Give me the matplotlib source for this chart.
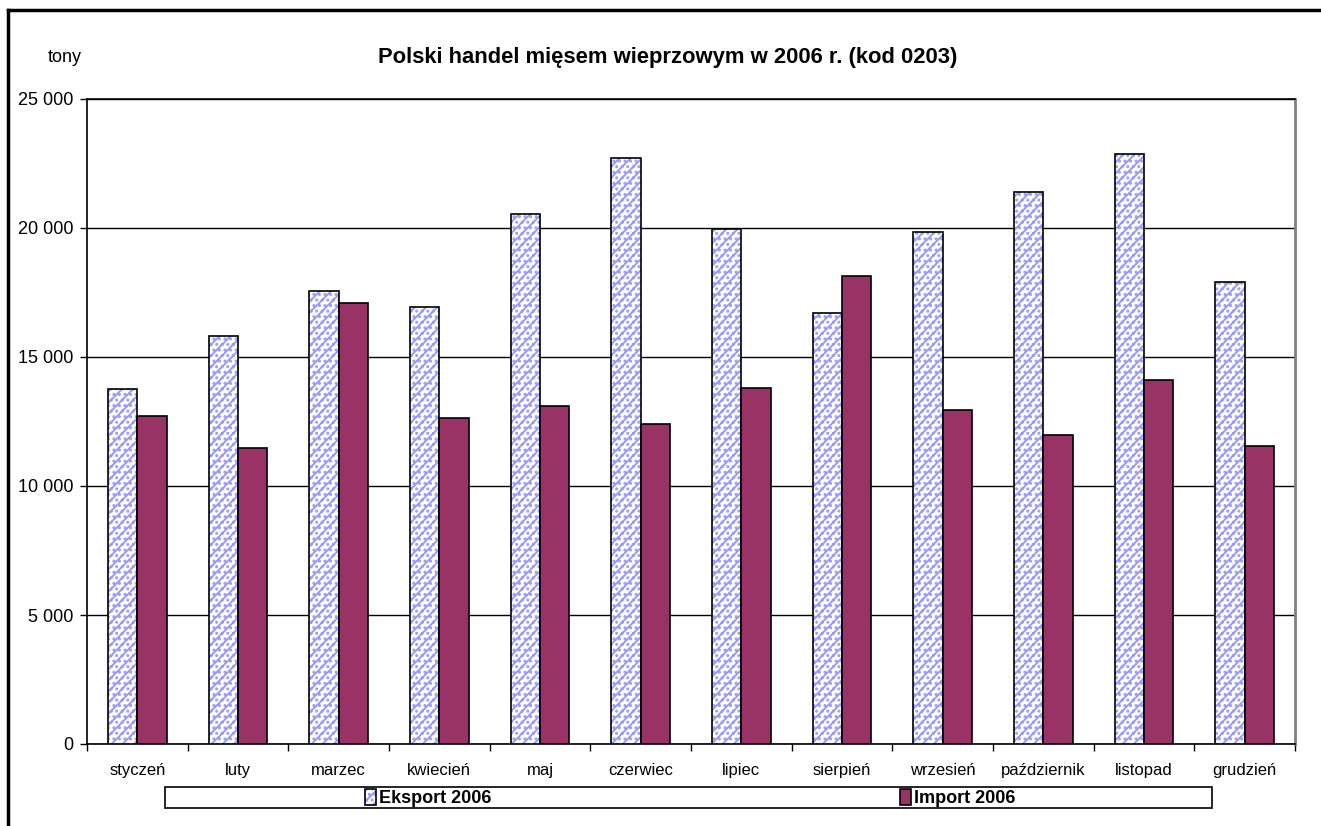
import numpy as np
import matplotlib
matplotlib.use("Agg")
import matplotlib.pyplot as plt
from matplotlib.patches import Rectangle
from matplotlib.lines import Line2D

plt.rcParams['font.family'] = ['Liberation Sans', 'DejaVu Sans']
plt.rcParams['hatch.linewidth'] = 1.4

# dane (tony)
months = ["styczeń", "luty", "marzec", "kwiecień", "maj", "czerwiec",
          "lipiec", "sierpień", "wrzesień", "październik", "listopad", "grudzień"]
eksport = [13760, 15800, 17570, 16920, 20550, 22710,
           19970, 16690, 19860, 21380, 22880, 17890]
importt = [12700, 11460, 17080, 12620, 13120, 12390,
           13780, 18140, 12930, 11990, 14120, 11560]
yticks = [0, 5000, 10000, 15000, 20000, 25000]
ytick_labels = ["0", "5 000", "10 000", "15 000", "20 000", "25 000"]

W, H = 1321, 826
fig = plt.figure(figsize=(W / 100, H / 100), dpi=100)
ax = fig.add_axes([87 / W, 1 - 744 / H, (1295 - 87) / W, (744 - 99) / H])

x = np.arange(len(months))
bw = 0.29
hatch_col = '#9a9af8'

# eksport: biale tlo + niebieski wzor, potem czarna ramka na wierzchu
b_hatch = ax.bar(x - bw / 2, eksport, bw, color='white', edgecolor=hatch_col,
                 hatch='///...', linewidth=0, zorder=3)
b_edge = ax.bar(x - bw / 2, eksport, bw, fill=False, edgecolor='black',
                linewidth=1.2, zorder=4)
b_imp = ax.bar(x + bw / 2, importt, bw, color='#993366', edgecolor='black',
               linewidth=1.2, zorder=4)

ax.set_xlim(-0.5, len(months) - 0.5)
ax.set_ylim(0, 25000)
ax.set_yticks(yticks)
ax.set_yticklabels(ytick_labels, fontsize=13)
ax.yaxis.grid(True, color='black', linewidth=1)
ax.set_axisbelow(True)

ax.set_xticks(x)
ax.set_xticklabels(months, fontsize=12)
ax.set_xticks(np.arange(len(months) + 1) - 0.5, minor=True)
ax.tick_params(axis='x', which='major', length=0, pad=14)
ax.tick_params(axis='x', which='minor', length=5, direction='out', width=1)
ax.tick_params(axis='y', length=5, direction='out', width=1, pad=5)

for s in ['top', 'left', 'bottom']:
    ax.spines[s].set_color('black')
    ax.spines[s].set_linewidth(1.2)
ax.spines['right'].set_color('#808080')
ax.spines['right'].set_linewidth(2)

fig.text(668 / W, 1 - 57 / H, "Polski handel mięsem wieprzowym w 2006 r. (kod 0203)",
         ha='center', va='center', fontsize=15.8, fontweight='bold')
fig.text(65 / W, 1 - 57 / H, "tony", ha='center', va='center', fontsize=13)

# ramka legendy
fig.patches.append(Rectangle((165 / W, 1 - 808 / H), (1212 - 165) / W, (808 - 787) / H,
                             transform=fig.transFigure, fill=False,
                             edgecolor='black', linewidth=1.2))
fig.legend([(b_hatch, b_edge), b_imp], ["Eksport 2006", "Import 2006"],
           loc='center', bbox_to_anchor=(690 / W, 1 - 798 / H), ncol=2,
           frameon=False, prop={'weight': 'bold', 'size': 13},
           handlelength=0.65, handleheight=0.95, handletextpad=0.15,
           columnspacing=22.6, borderpad=0)

# zewnetrzna ramka wykresu
fig.lines.append(Line2D([8 / W, 8 / W], [0, 1 - 10 / H], transform=fig.transFigure,
                        color='black', linewidth=2.5))
fig.lines.append(Line2D([8 / W, 1], [1 - 10 / H, 1 - 10 / H], transform=fig.transFigure,
                        color='black', linewidth=2.5))

fig.savefig("out.png", dpi=100)
